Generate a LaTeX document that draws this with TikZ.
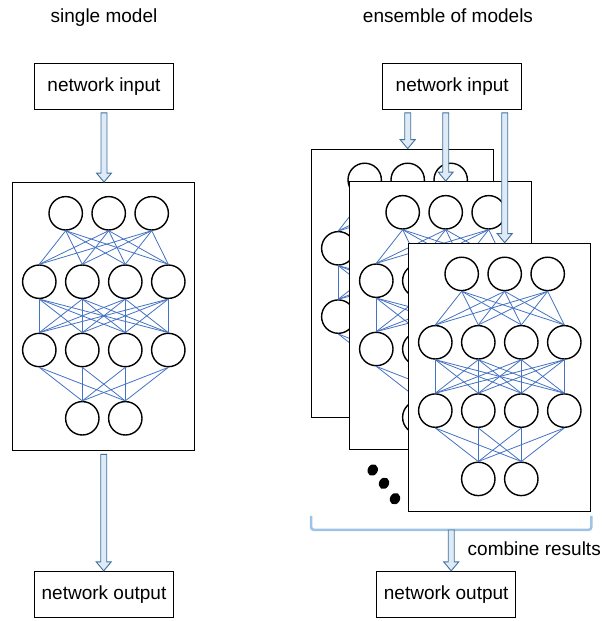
\documentclass[tikz,border=0pt]{standalone}
\usepackage{fontspec}
\setmainfont{Liberation Sans}
\usepackage{xcolor}
\usepackage{tikz}
\usetikzlibrary{calc}

\definecolor{linkblue}{RGB}{68,114,196}
\definecolor{flowline}{RGB}{65,113,156}
\definecolor{flowfill}{RGB}{222,235,247}
\definecolor{bracketblue}{RGB}{157,195,230}

\tikzset{
	label text/.style={font=\fontsize{19}{22}\selectfont},
	io/.style={draw, line width=1.3pt, minimum width=139pt, minimum height=46pt, inner sep=0pt, label text},
	netbox/.style={draw, fill=white, line width=1.3pt, minimum width=182pt, minimum height=268pt, inner sep=0pt},
	unit/.style={circle, draw, line width=1.4pt, minimum size=33.4pt, inner sep=0pt},
	link/.style={linkblue, line width=0.8pt},
	bracket/.style={bracketblue, line width=2.5pt, rounded corners=3pt},
	flow/.style={draw=flowline, fill=flowfill, line width=0.9pt,
		to path={let \p1=(\tikztostart), \p2=(\tikztotarget) in
			(\x1-3pt,\y1) -- (\x1+3pt,\y1) -- (\x1+3pt,\y2+9pt) -- (\x1+7.5pt,\y2+9pt)
			-- (\x1,\y2) -- (\x1-7.5pt,\y2+9pt) -- (\x1-3pt,\y2+9pt) -- cycle}},
	% one fully connected network in its frame, origin at the top left corner
	mlp/.pic={
		\node[netbox] (-box) at (91,134) {};
		\foreach \x [count=\i] in {53,96,139}
			\node[unit] (-a\i) at (\x,30.6) {};
		\foreach \x [count=\i] in {26.6,69.6,112.6,155.6} {
			\node[unit] (-b\i) at (\x,99) {};
			\node[unit] (-c\i) at (\x,167.3) {};
		}
		\foreach \x [count=\i] in {69.6,112.6}
			\node[unit] (-d\i) at (\x,235.6) {};
		\foreach \i in {1,2,3}
			\foreach \j in {1,...,4}
				\draw[link] (-a\i.south) -- (-b\j.north);
		\foreach \i in {1,...,4}
			\foreach \j in {1,...,4}
				\draw[link] (-b\i.south) -- (-c\j.north);
		\foreach \i in {1,...,4}
			\foreach \j in {1,2}
				\draw[link] (-c\i.south) -- (-d\j.north);
	}
}

\begin{document}
\begin{tikzpicture}[x=1pt, y=-1pt]
	\useasboundingbox (0,0) rectangle (602,621);

	% single model
	\node[label text, anchor=base] (title1) at (104,22) {single model};
	\node[io] (in1) at (104,86.2) {network input};
	\pic (single) at (12.7,182.7) {mlp};
	\node[io] (out1) at (104,594.5) {network output};

	\draw[flow] ($(in1.south)+(0,3)$) to (single-box.north);
	\draw[flow] ($(single-box.south)+(0,3)$) to (out1.north);

	% ensemble of models
	\node[label text, anchor=base] (title2) at (448,22) {ensemble of models};
	\node[io] (in2) at (452.2,86.2) {network input};
	\pic (back) at (311.7,149.3) {mlp};
	\pic (mid) at (349.7,181.7) {mlp};
	\pic (front) at (408.7,243.3) {mlp};

	\foreach \net in {back,mid,front}
		\draw[flow] ($(in2.south -| \net-a2)+(0,3)$) to (\net-box.north -| \net-a2);

	\foreach \x/\y in {372.7/470,384/483.3,395/498.7}
		\fill (\x,\y) circle[x radius=5, y radius=6, rotate=-30];

	\coordinate (bl) at ($(back-box.west |- front-box.south)+(0,4)$);
	\coordinate (br) at (front-box.east |- bl);
	\draw[bracket] (bl) -- ++(0,14) -| (br);
	\coordinate (combine) at ($(bl)!0.5!(br)+(0,14)$);

	\node[io] (out2) at (446.2,594.5) {network output};
	\draw[flow] (combine) to (out2.north -| combine);
	\node[label text, anchor=west] (combinetxt) at ($(combine)+(13,19)$) {combine results};
\end{tikzpicture}
\end{document}
